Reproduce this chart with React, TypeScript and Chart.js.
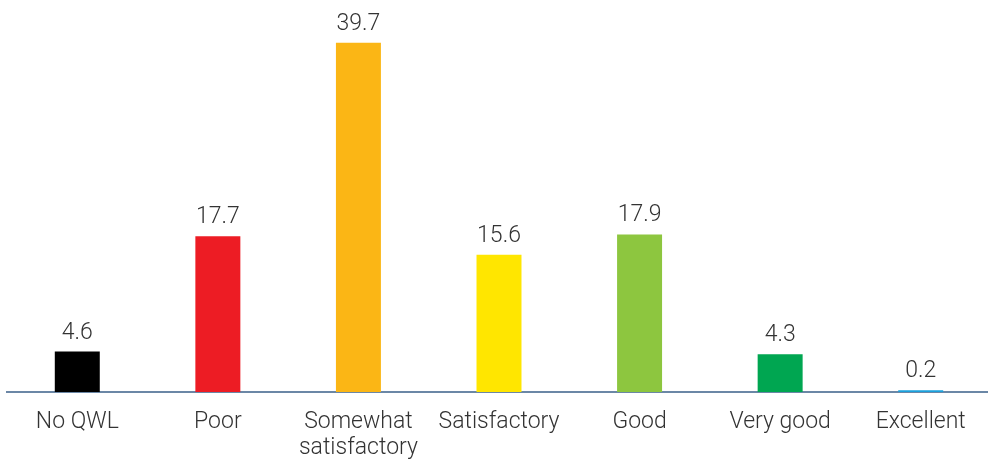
import React, { useEffect, useRef } from "react";
import { Chart, registerables } from "chart.js";

Chart.register(...registerables);

const categories: (string | string[])[] = [
  "No QWL",
  "Poor",
  ["Somewhat", "satisfactory"],
  "Satisfactory",
  "Good",
  "Very good",
  "Excellent",
];
const values: number[] = [4.6, 17.7, 39.7, 15.6, 17.9, 4.3, 0.2];
const valueLabels: string[] = ["4.6", "17.7", "39.7", "15.6", "17.9", "4.3", "0.2"];
const barColors: string[] = [
  "#000000",
  "#ed1c24",
  "#fbb615",
  "#ffe600",
  "#8dc63f",
  "#00a651",
  "#1ba1dc",
];

const FONT = "Roboto, 'Open Sans', sans-serif";

const valueLabelPlugin = {
  id: "valueLabels",
  afterDatasetsDraw(chart: any) {
    const ctx = chart.ctx;
    const meta = chart.getDatasetMeta(0);
    ctx.save();
    ctx.font = `300 23px ${FONT}`;
    ctx.fillStyle = "#333333";
    ctx.textAlign = "center";
    ctx.textBaseline = "alphabetic";
    meta.data.forEach((bar: any, i: number) => {
      ctx.fillText(valueLabels[i], bar.x, bar.y - 13);
    });
    ctx.restore();
  },
};

export default function App() {
  const ref = useRef<HTMLCanvasElement | null>(null);
  useEffect(() => {
    document.body.style.margin = "0";
    document.body.style.overflow = "hidden";
    const chart = new Chart(ref.current as HTMLCanvasElement, {
      type: "bar",
      data: {
        labels: categories,
        datasets: [
          {
            data: values,
            backgroundColor: barColors,
            categoryPercentage: 1,
            barPercentage: 0.32,
          },
        ],
      },
      options: {
        animation: false,
        responsive: false,
        layout: { padding: { top: 40, left: 7, right: 0, bottom: 0 } },
        plugins: { legend: { display: false }, tooltip: { enabled: false } },
        scales: {
          x: {
            grid: { display: false },
            border: { display: true, color: "#6b87a6", width: 2 },
            ticks: {
              color: "#333333",
              font: { family: FONT, size: 23, weight: "300" as any, lineHeight: 1.15 },
              padding: 9,
              maxRotation: 0,
              autoSkip: false,
            },
            afterFit(scale: any) {
              scale.height = 67;
            },
          },
          y: { display: false, min: 0, max: 40 },
        },
      },
      plugins: [valueLabelPlugin],
    });
    return () => chart.destroy();
  }, []);
  return (
    <div style={{ width: 988, height: 459, overflow: "hidden" }}>
      <canvas ref={ref} width={991} height={459} />
    </div>
  );
}
